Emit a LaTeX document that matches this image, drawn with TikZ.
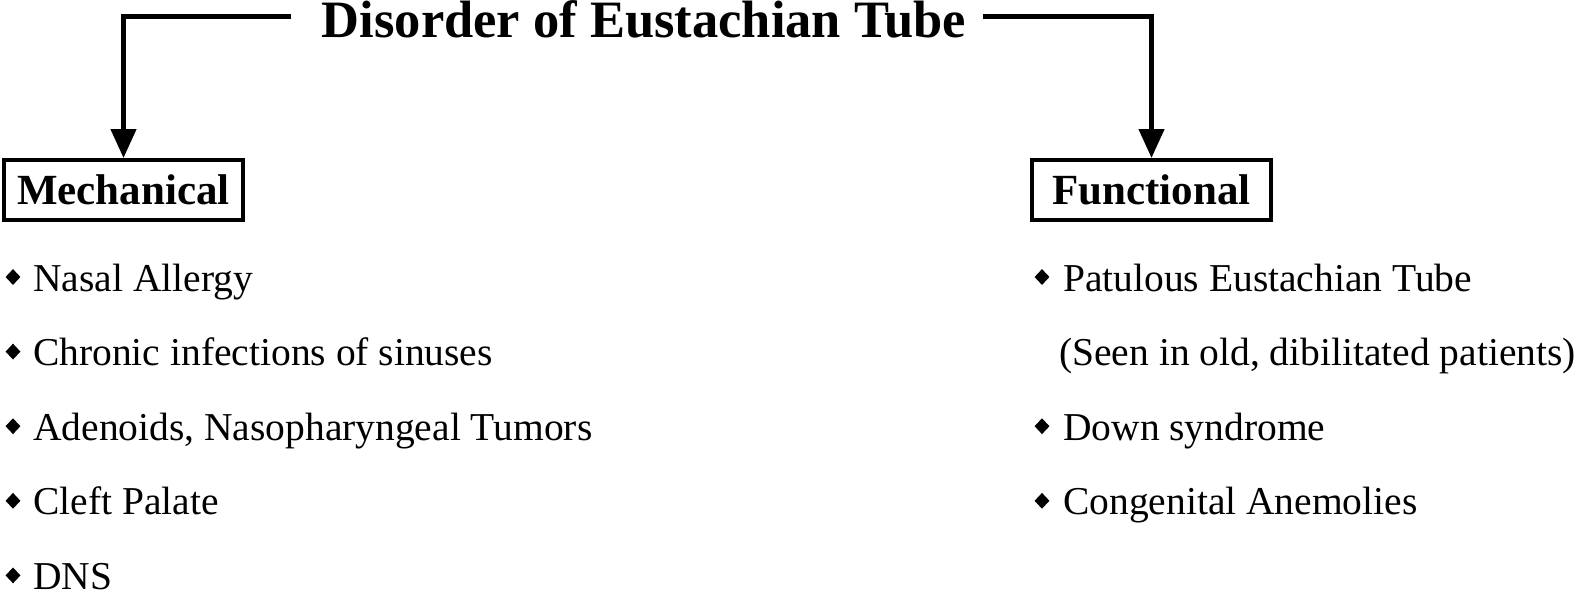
\documentclass[tikz,border=0pt]{standalone}
\usepackage{fontspec}
\setmainfont{Liberation Serif}
\usetikzlibrary{arrows.meta,shapes.geometric}
\begin{document}
\begin{tikzpicture}[x=1pt,y=1pt,
  conn/.style={line width=4.5pt,-{Triangle[length=29pt,width=25pt]}},
  catbox/.style={draw,line width=4pt,minimum width=239pt,minimum height=60pt,inner sep=0pt,
    font=\fontsize{43}{50}\selectfont\bfseries},
  item/.style={anchor=base west,inner sep=0pt,font=\fontsize{39.5}{46}\selectfont},
  bul/.style={diamond,fill=black,draw=none,minimum width=15pt,minimum height=16pt,inner sep=0pt},
  ttl/.style={anchor=base,inner sep=0pt,font=\fontsize{52.5}{60}\selectfont\bfseries}]
\useasboundingbox (0,0) rectangle (1576,-590);
\fill[white] (0,0) rectangle (1576,-590);
% title
\node[ttl] (title) at (644,-37) {Disorder of Eustachian Tube};
\coordinate (lA) at (291,-16.5);
\coordinate (rA) at (983,-16.5);
% category boxes
\node[catbox] (mech) at (123.5,-190) {Mechanical};
\node[catbox] (func) at (1151.5,-190) {Functional};
\draw[conn] (lA) -| (mech.north);
\draw[conn] (rA) -| (func.north);
% left items
\node[bul] (lb1) at (13,-277) {};
\node[item] (l1) at (33,-291) {Nasal Allergy};
\node[bul] (lb2) at (13,-351.6) {};
\node[item] (l2) at (33,-365.6) {Chronic infections of sinuses};
\node[bul] (lb3) at (13,-426.2) {};
\node[item] (l3) at (33,-440.2) {Adenoids, Nasopharyngeal Tumors};
\node[bul] (lb4) at (13,-500.8) {};
\node[item] (l4) at (33,-514.8) {Cleft Palate};
\node[bul] (lb5) at (13,-575.4) {};
\node[item] (l5) at (33,-589.4) {DNS};
% right items
\node[bul] (rb1) at (1042,-277) {};
\node[item] (r1) at (1063,-291) {Patulous Eustachian Tube};
\node[item] (r2) at (1059,-365.6) {(Seen in old, dibilitated patients)};
\node[bul] (rb3) at (1042,-426.2) {};
\node[item] (r3) at (1063,-440.2) {Down syndrome};
\node[bul] (rb4) at (1042,-500.8) {};
\node[item] (r4) at (1063,-514.8) {Congenital Anemolies};
\end{tikzpicture}
\end{document}
